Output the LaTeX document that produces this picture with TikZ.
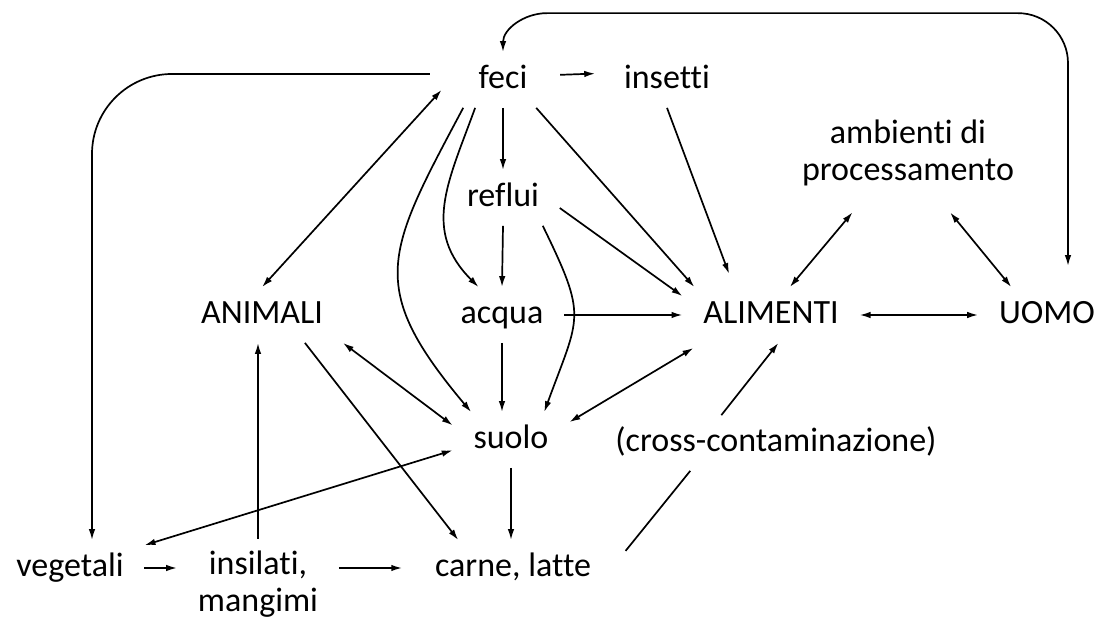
\documentclass[tikz,border=0pt]{standalone}
\usepackage{fontspec}
\setmainfont{Carlito}[Ligatures=NoCommon]
\usepackage{tikz}
\usetikzlibrary{arrows.meta}

\tikzset{
  lbl/.style={font=\fontsize{34}{37}\selectfont, inner xsep=20pt, inner ysep=11.5pt, text height=24pt, text depth=7pt},
  lbltwo/.style={font=\fontsize{34}{37}\selectfont, inner xsep=20pt, inner ysep=11.5pt, align=center},
}

\begin{document}
\begin{tikzpicture}[x=1pt, y=1pt, >={Latex[length=11pt,width=6.5pt]}, line width=1.7pt]
    \useasboundingbox (0,0) rectangle (1104,621);

    \node[lbl] (feci) at (503,541) {feci};
    \node[lbl] (insetti) at (667,541) {insetti};
    \node[lbl] (reflui) at (503,423) {reflui};
    \node[lbltwo] (amb) at (908,468) {ambienti di\\processamento};
    \node[lbl] (animali) at (262,306) {ANIMALI};
    \node[lbl] (acqua) at (502,306) {acqua};
    \node[lbl] (alimenti) at (771,306) {ALIMENTI};
    \node[lbl] (uomo) at (1047,306) {UOMO};
    \node[lbl] (suolo) at (511,181) {suolo};
    \node[lbl] (cross) at (776,178) {(cross-contaminazione)};
    \node[lbl] (vegetali) at (70,53) {vegetali};
    \node[lbltwo] (insilati) at (258,36.5) {insilati,\\mangimi};
    \node[lbl] (carne) at (513,53) {carne, latte};

    % da feci
    \draw[<->, shorten <=24pt] (feci.170) -- (animali.north);
    \draw[->] (feci.south) -- (reflui.north);
    \draw[->] (feci.-40) -- (alimenti.160);
    \draw[->, shorten <=12pt, shorten >=8pt] (feci.6) -- (insetti.174);
    \draw[->, shorten >=14pt] (insetti.south) -- (alimenti.143);
    \draw[<->] (feci.north) to[out=90,in=180] ++(44,39) [rounded corners=50pt] -| ([xshift=21pt,yshift=21pt]uomo.north);
    \draw[->, rounded corners=80pt, shorten <=28pt] ([yshift=6pt]feci.west) -| ([xshift=22pt]vegetali.north);
    \draw[->] (feci.-135) to[out=-110,in=135,looseness=1.14] (acqua.130);
    \draw[->] (feci.-145) to[out=-118,in=130,looseness=1.38] (suolo.145);

    % reflui e acqua
    \draw[->] (reflui.south) -- (acqua.north);
    \draw[->] (reflui.-35) to[out=-64,in=70,looseness=1.42] (suolo.40);
    \draw[->] (reflui.-10) -- (alimenti.168);
    \draw[->] (acqua.east) -- (alimenti.west);
    \draw[->] (acqua.south) -- (acqua.south |- suolo.north);

    % alimenti
    \draw[<->, shorten <=10pt] (alimenti.-158) -- (suolo.17);
    \draw[->] (cross.153) -- (alimenti.-75);
    \draw[shorten <=22pt] (carne.east) -- (cross.-162);
    \draw[<->] (alimenti.east) -- (uomo.west);
    \draw[<->, shorten <=18pt] (amb.-134) -- (alimenti.56);
    \draw[<->, shorten <=18pt] (amb.-56) -- (uomo.142);

    % animali, suolo, vegetali
    \draw[<->] (animali.-19) -- (suolo.166);
    \draw[->] (animali.-33) -- (carne.153);
    \draw[->] (suolo.south) -- (suolo.south |- carne.north);
    \draw[->] (insilati.north) -- (insilati.north |- animali.south);
    \draw[<->] (suolo.190) -- (vegetali.17);
    \draw[->] (vegetali.east) -- (vegetali.east -| insilati.west);
    \draw[->, shorten >=12pt] (carne.west -| insilati.east) -- (carne.west);
\end{tikzpicture}
\end{document}
